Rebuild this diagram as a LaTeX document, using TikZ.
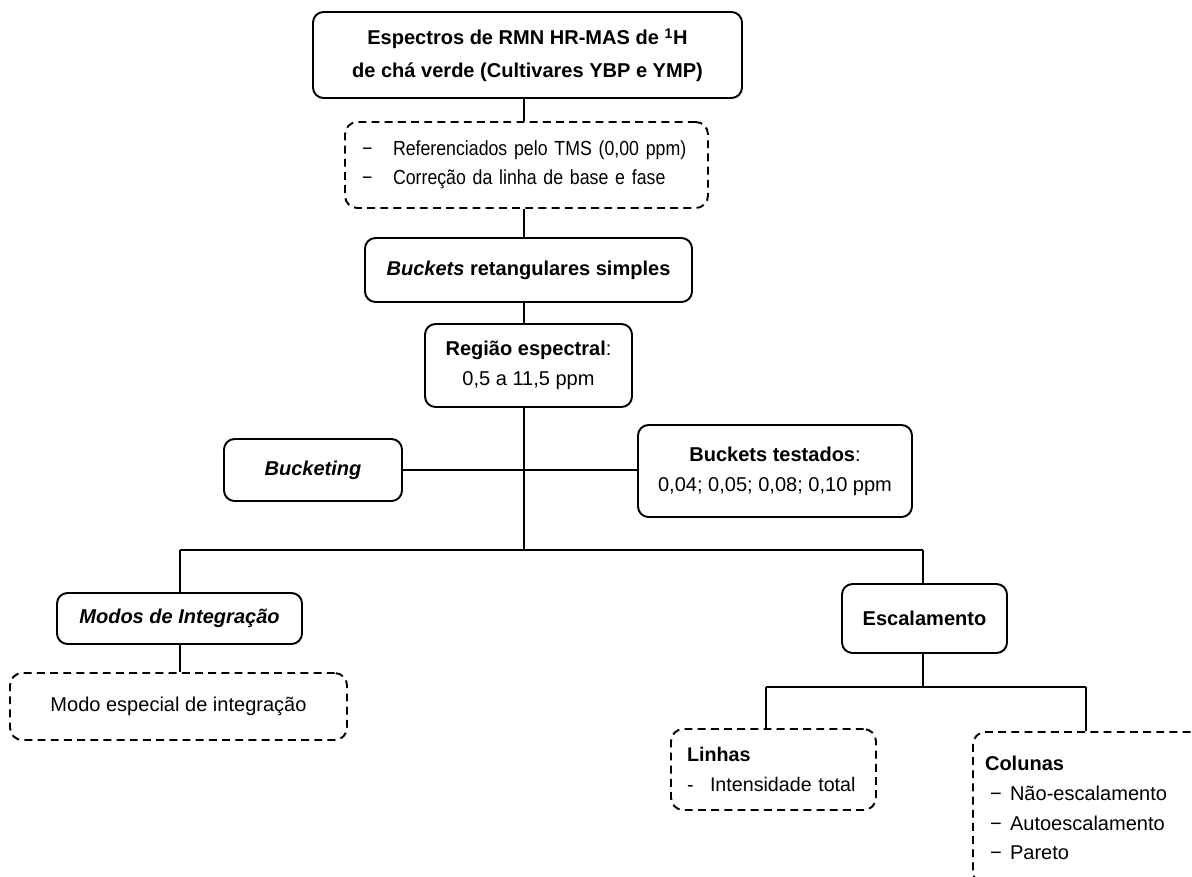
\documentclass[tikz,border=0pt]{standalone}
\usepackage{fontspec}
\setmainfont{Liberation Sans}
\newfontfamily\condfont[FakeStretch=0.87]{Liberation Sans}
\begin{document}
\begin{tikzpicture}[x=0.02cm,y=-0.02cm,
  every node/.style={font=\fontsize{11.4}{17}\selectfont, inner sep=0pt, align=center},
  solidbox/.style={draw, line width=1.1pt, rounded corners=6pt},
  dashbox/.style={draw, line width=1.1pt, rounded corners=7pt, dash pattern=on 4.5pt off 3pt},
  sz/.style 2 args={minimum width=#1*0.02cm, minimum height=#2*0.02cm},
  conn/.style={line width=1.1pt}]
\useasboundingbox (0,0) rectangle (1192,876);
\clip (0,0) rectangle (1192,876);

\node[solidbox, sz={429}{86}, font=\bfseries\fontsize{11.4}{18.5}\selectfont] (top) at (527.5,55)
  {\rule{0pt}{9pt}Espectros de RMN HR-MAS de \textsuperscript{1}H\\de chá verde (Cultivares YBP e YMP)};

\node[dashbox, sz={363}{86}, align=left, text width=6.58cm, inner xsep=0.34cm,
      font=\condfont\fontsize{11.6}{16.4}\selectfont] (pre) at (526.5,165)
  {\makebox[0.62cm][l]{−}Referenciados pelo TMS (0,00 ppm)\\\makebox[0.62cm][l]{−}Correção da linha de base e fase};

\node[solidbox, sz={327}{64}] (buck) at (528.5,270)
  {\textbf{\textit{Buckets}} \textbf{retangulares simples}};

\node[solidbox, sz={207}{83}] (reg) at (528.5,365.5)
  {\textbf{Região espectral}:\\0,5 a 11,5 ppm};

\node[solidbox, sz={178}{62}] (bing) at (313,470)
  {\textbf{\textit{Bucketing}}};

\node[solidbox, sz={274}{92}] (btest) at (775,471)
  {\textbf{Buckets testados}:\\0,04; 0,05; 0,08; 0,10 ppm};

\node[solidbox, sz={245}{51}] (modos) at (179.5,618.5)
  {\textbf{\textit{Modos de Integração}}};

\node[dashbox, sz={337}{67}] (modo2) at (178.5,706.5)
  {Modo especial de integração};

\node[solidbox, sz={165}{69}] (esc) at (924.5,618.5)
  {\textbf{Escalamento}};

\node[dashbox, sz={205}{81}, align=left, text width=3.46cm, inner xsep=0.32cm,
      font=\fontsize{11.2}{17.5}\selectfont] (linhas) at (773.5,769.5)
  {\textbf{Linhas}\\\makebox[0.46cm][l]{-}Intensidade total};

\node[dashbox, sz={243}{152}, align=left, text width=4.38cm, inner xsep=0.24cm] (colunas) at (1094.5,808)
  {\textbf{Colunas}\\
   \hspace*{0.1cm}\makebox[0.4cm][l]{−}Não-escalamento\\
   \hspace*{0.1cm}\makebox[0.4cm][l]{−}Autoescalamento\\
   \hspace*{0.1cm}\makebox[0.4cm][l]{−}Pareto};

% connectors
\coordinate (sp) at (524,0);
\coordinate (j1) at (524,550);
\coordinate (bl) at (180,550);
\coordinate (br) at (923,550);
\coordinate (j2) at (923,687);
\coordinate (cl) at (766,687);
\coordinate (cr) at (1086,687);

\draw[conn] (top.south -| sp) -- (pre.north -| sp);
\draw[conn] (pre.south -| sp) -- (buck.north -| sp);
\draw[conn] (buck.south -| sp) -- (reg.north -| sp);
\draw[conn] (reg.south -| sp) -- (j1);
\draw[conn] (bing.east) -- (bing.east -| btest.west);
\draw[conn] (bl) -- (br);
\draw[conn] (bl) -- (bl |- modos.north);
\draw[conn] (modos.south -| bl) -- (modo2.north -| bl);
\draw[conn] (br) -- (br |- esc.north);
\draw[conn] (esc.south -| br) -- (j2);
\draw[conn] (cl) -- (cr);
\draw[conn] (cl) -- (cl |- linhas.north);
\draw[conn] (cr) -- (cr |- colunas.north);
\end{tikzpicture}
\end{document}
